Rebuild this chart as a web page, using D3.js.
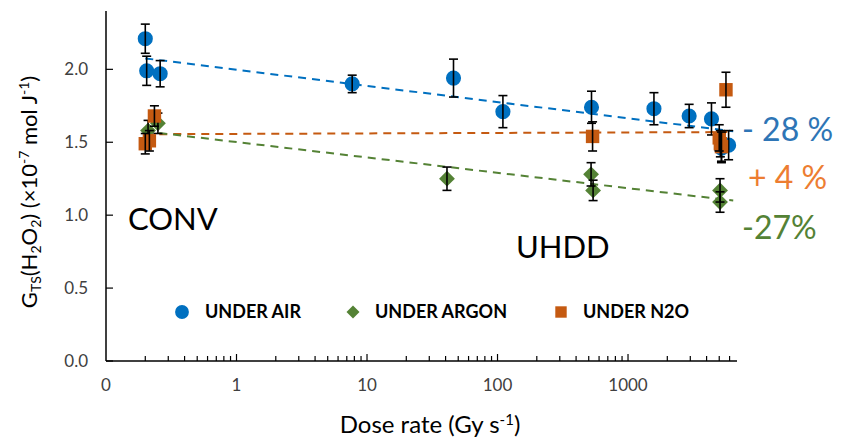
<!DOCTYPE html>
<html><head><meta charset="utf-8">
<script src="https://cdn.jsdelivr.net/npm/d3@7"></script>
<style>body{margin:0;background:#fff}svg{display:block}text{font-family:Lato,"Open Sans",sans-serif}</style>
</head><body>
<svg id="c" width="844" height="437"></svg>
<script>
// Data
const airX   = [0.20, 0.205, 0.26, 7.7, 46, 110, 525, 1580, 2940, 4360, 5200, 5900];
const airY   = [2.21, 1.99, 1.97, 1.90, 1.94, 1.71, 1.74, 1.73, 1.68, 1.66, 1.46, 1.48];
const airE   = [0.10, 0.10, 0.09, 0.06, 0.13, 0.11, 0.11, 0.11, 0.08, 0.11, 0.10, 0.10];
const argX   = [0.21, 0.25, 41, 521, 540, 5070, 5070];
const argY   = [1.58, 1.63, 1.25, 1.28, 1.17, 1.17, 1.09];
const argE   = [0.07, 0.07, 0.08, 0.08, 0.07, 0.08, 0.07];
const n2oX   = [0.20, 0.215, 0.235, 535, 5000, 5100, 5200, 5630];
const n2oY   = [1.49, 1.51, 1.68, 1.54, 1.53, 1.49, 1.47, 1.86];
const n2oE   = [0.07, 0.07, 0.07, 0.10, 0.09, 0.09, 0.10, 0.12];
const trendX    = [0.2, 6400];
const trendAir  = [2.075, 1.575];
const trendArg  = [1.575, 1.10];
const trendN2o  = [1.555, 1.570];
const xTickVals = [0.1, 1, 10, 100, 1000];
const xTickLabels = ["0", "1", "10", "100", "1000"];
const yTickVals = [0, 0.5, 1.0, 1.5, 2.0];
const seriesNames = ["UNDER AIR", "UNDER ARGON", "UNDER N2O"];
const annotations = ["- 28 %", "+ 4 %", "-27%"];
const regionLabels = ["CONV", "UHDD"];

const colors = {air:"#0070C0", arg:"#548235", n2o:"#C55A11"};
const annColors = ["#2E75B6", "#ED7D31", "#548235"];

const svg = d3.select("#c");
const x = d3.scaleLog().domain([0.1, 6840]).range([106, 737]);
const y = d3.scaleLinear().domain([0, 2.4]).range([361, 11]);

// Axes
const gx = svg.append("g").attr("transform","translate(0,361)");
const minor = [];
for (let d = 0.1; d < 6840; d *= 10) for (let k = 2; k <= 9; k++) if (d*k <= 6840) minor.push(d*k);
gx.append("line").attr("x1",106).attr("x2",737).attr("stroke","#000").attr("stroke-width",1.5);
gx.selectAll(".mn").data(minor).join("line").attr("x1",d=>x(d)).attr("x2",d=>x(d)).attr("y1",0).attr("y2",-5).attr("stroke","#000").attr("stroke-width",1.2);
gx.selectAll(".mj").data(xTickVals.slice(1)).join("line").attr("x1",d=>x(d)).attr("x2",d=>x(d)).attr("y1",0).attr("y2",-7).attr("stroke","#000").attr("stroke-width",1.2);
gx.selectAll(".lb").data(xTickVals).join("text").attr("x",d=>x(d)).attr("y",30).attr("text-anchor","middle")
  .attr("font-size",17).attr("fill","#404040").text((d,i)=>xTickLabels[i]);

const gy = svg.append("g");
gy.append("line").attr("x1",106).attr("x2",106).attr("y1",11).attr("y2",361).attr("stroke","#000").attr("stroke-width",1.5);
gy.selectAll(".t").data(yTickVals).join("line").attr("x1",106).attr("x2",113).attr("y1",d=>y(d)).attr("y2",d=>y(d)).attr("stroke","#000").attr("stroke-width",1.2);
gy.selectAll(".l").data(yTickVals).join("text").attr("x",88).attr("y",d=>y(d)).attr("dy","0.35em").attr("text-anchor","end")
  .attr("font-size",17).attr("fill","#404040").text(d=>d3.format(".1f")(d));

// Axis titles
const yt = svg.append("text").attr("transform","translate(37,192) rotate(-90)").attr("text-anchor","middle").attr("font-size",22).attr("fill","#000");
yt.append("tspan").text("G");
yt.append("tspan").attr("font-size",14).attr("baseline-shift","-30%").text("TS");
yt.append("tspan").text("(H");
yt.append("tspan").attr("font-size",14).attr("baseline-shift","-30%").text("2");
yt.append("tspan").text("O");
yt.append("tspan").attr("font-size",14).attr("baseline-shift","-30%").text("2");
yt.append("tspan").text(") (\u00d710");
yt.append("tspan").attr("font-size",14).attr("baseline-shift","55%").text("-7");
yt.append("tspan").text(" mol J");
yt.append("tspan").attr("font-size",14).attr("baseline-shift","55%").text("-1");
yt.append("tspan").text(")");

const xt = svg.append("text").attr("x",430).attr("y",433).attr("text-anchor","middle").attr("font-size",24).attr("fill","#000");
xt.append("tspan").text("Dose rate (Gy s");
xt.append("tspan").attr("font-size",15).attr("baseline-shift","55%").text("-1");
xt.append("tspan").text(")");

// Trendlines
const line = d3.line().x(d=>x(d[0])).y(d=>y(d[1]));
[[trendAir,colors.air],[trendN2o,colors.n2o],[trendArg,colors.arg]].forEach(([t,c])=>{
  svg.append("path").attr("d", line(trendX.map((v,i)=>[v,t[i]]))).attr("fill","none")
    .attr("stroke",c).attr("stroke-width",2).attr("stroke-dasharray","8,6");
});

// Series
function series(xs, ys, es, color, sym, size, rot){
  const data = xs.map((v,i)=>({x:v,y:ys[i],e:es[i]}));
  const g = svg.append("g");
  const sh = d3.symbol().type(sym).size(size);
  g.selectAll("path.m").data(data).join("path").attr("class","m")
    .attr("transform",d=>`translate(${x(d.x)},${y(d.y)}) rotate(${rot})`).attr("d",sh).attr("fill",color);
  const eb = g.selectAll("g.e").data(data).join("g").attr("class","e");
  eb.append("line").attr("x1",d=>x(d.x)).attr("x2",d=>x(d.x)).attr("y1",d=>y(d.y+d.e)).attr("y2",d=>y(d.y-d.e)).attr("stroke","#000").attr("stroke-width",1.6);
  eb.append("line").attr("x1",d=>x(d.x)-4.5).attr("x2",d=>x(d.x)+4.5).attr("y1",d=>y(d.y+d.e)).attr("y2",d=>y(d.y+d.e)).attr("stroke","#000").attr("stroke-width",1.6);
  eb.append("line").attr("x1",d=>x(d.x)-4.5).attr("x2",d=>x(d.x)+4.5).attr("y1",d=>y(d.y-d.e)).attr("y2",d=>y(d.y-d.e)).attr("stroke","#000").attr("stroke-width",1.6);
}
series(airX, airY, airE, colors.air, d3.symbolCircle, 180, 0);
series(argX, argY, argE, colors.arg, d3.symbolSquare, 125, 45);
series(n2oX, n2oY, n2oE, colors.n2o, d3.symbolSquare, 180, 0);

// Legend
const leg = [
  {name:seriesNames[0], c:colors.air, s:d3.symbolCircle, sz:150, r:0, mx:182, tx:205},
  {name:seriesNames[1], c:colors.arg, s:d3.symbolSquare, sz:85, r:45, mx:353, tx:375},
  {name:seriesNames[2], c:colors.n2o, s:d3.symbolSquare, sz:130, r:0, mx:561, tx:583}
];
leg.forEach(l=>{
  svg.append("path").attr("transform",`translate(${l.mx},312) rotate(${l.r})`).attr("d",d3.symbol().type(l.s).size(l.sz)).attr("fill",l.c);
  svg.append("text").attr("x",l.tx).attr("y",312).attr("dy","0.36em").attr("font-size",18).attr("font-weight","bold").attr("fill","#000").text(l.name);
});

// Annotations
svg.append("text").attr("x",128).attr("y",230).attr("font-size",31).attr("fill","#000").text(regionLabels[0]);
svg.append("text").attr("x",516).attr("y",258).attr("font-size",31).attr("fill","#000").text(regionLabels[1]);
const annY = [141, 189, 239];
const annX = [742, 748, 742];
annotations.forEach((a,i)=>{
  svg.append("text").attr("x", annX[i]).attr("y",annY[i]).attr("font-size",32).attr("fill",annColors[i]).text(a);
});
</script>
</body></html>
